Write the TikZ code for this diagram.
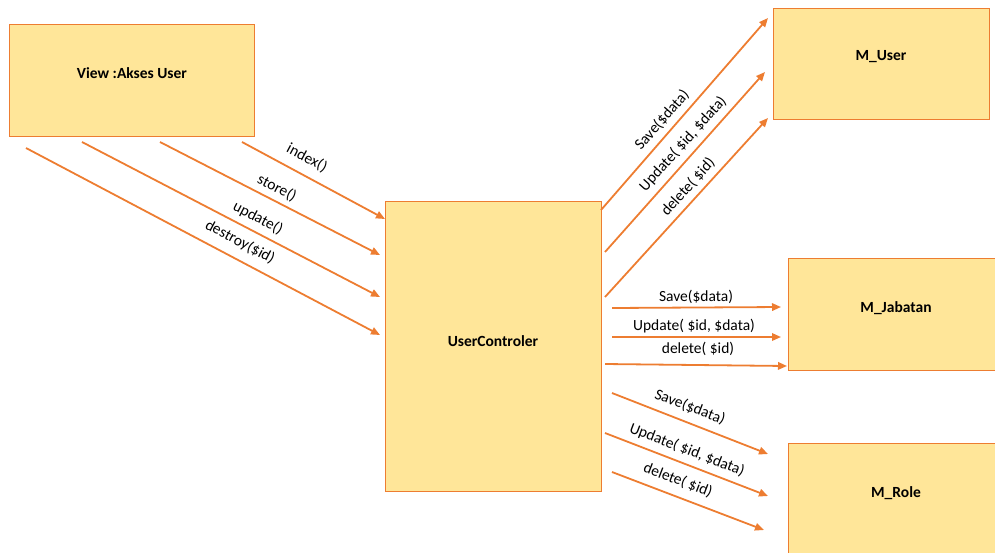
\documentclass[tikz,border=0pt]{standalone}
\usepackage{fontspec}
\setmainfont{Carlito}
\usetikzlibrary{arrows.meta}
\definecolor{boxfill}{HTML}{FFE699}
\definecolor{accent}{HTML}{ED7D31}
\begin{document}
\begin{tikzpicture}[x=1pt,y=-1pt,
  box/.style={draw=accent, line width=1pt, fill=boxfill, anchor=north west, inner sep=0pt},
  boxtext/.style={font=\fontsize{15.5}{18}\selectfont\bfseries, inner sep=0pt},
  msg/.style={draw=accent, line width=1.8pt, -{Triangle[length=9pt,width=7.5pt]}},
  msglabel/.style={font=\fontsize{15.5}{18}\selectfont, inner sep=0pt}]
\useasboundingbox (0,0) rectangle (995,552);
\clip (0,0) rectangle (995,552);

% classes
\node[box, minimum width=245pt, minimum height=112pt] (view) at (9,24) {};
\node[box, minimum width=216pt, minimum height=290pt] (ctrl) at (385,201) {};
\node[box, minimum width=216pt, minimum height=111pt] (muser) at (773,8) {};
\node[box, minimum width=220pt, minimum height=112pt] (mjab) at (788,258) {};
\node[box, minimum width=220pt, minimum height=125pt] (mrole) at (788,443) {};

\node[boxtext] (viewtxt) at (132,73) {View :Akses User};
\node[boxtext] (ctrltxt) at (493,341) {UserControler};
\node[boxtext] (musertxt) at (881,57) {M\_User};
\node[boxtext] (mjabtxt) at (896,308) {M\_Jabatan};
\node[boxtext] (mroletxt) at (896,493) {M\_Role};

% view -> controller
\coordinate (idxA) at (242,142); \coordinate (idxB) at (385,219);
\coordinate (stoA) at (160,142); \coordinate (stoB) at (380,255);
\coordinate (updA) at (82,142);  \coordinate (updB) at (380,297);
\coordinate (desA) at (26,148);  \coordinate (desB) at (380,335);
\draw[msg] (idxA) -- (idxB);
\draw[msg] (stoA) -- (stoB);
\draw[msg] (updA) -- (updB);
\draw[msg] (desA) -- (desB);
\node[msglabel, rotate=-28] (lidx) at (307,158) {index()};
\node[msglabel, rotate=-27] (lsto) at (277,188) {store()};
\node[msglabel, rotate=-27.5] (lupd) at (258,218) {update()};
\node[msglabel, rotate=-28] (ldes) at (240,242) {destroy(\$id)};

% controller -> M_User
\coordinate (uSaveA) at (601,210); \coordinate (uSaveB) at (768,18);
\coordinate (uUpdA) at (605,252);  \coordinate (uUpdB) at (765,72);
\coordinate (uDelA) at (605,297);  \coordinate (uDelB) at (768,118);
\draw[msg] (uSaveA) -- (uSaveB);
\draw[msg] (uUpdA) -- (uUpdB);
\draw[msg] (uDelA) -- (uDelB);
\node[msglabel, rotate=49] (luSave) at (662,120) {Save(\$data)};
\node[msglabel, rotate=48] (luUpd) at (683,144) {Update( \$id, \$data)};
\node[msglabel, rotate=48] (luDel) at (688,187) {delete( \$id)};

% controller -> M_Jabatan
\coordinate (jSaveA) at (612,308); \coordinate (jSaveB) at (781,307);
\coordinate (jUpdA) at (612,337);  \coordinate (jUpdB) at (781,337);
\coordinate (jDelA) at (605,364);  \coordinate (jDelB) at (787,366);
\draw[msg] (jSaveA) -- (jSaveB);
\draw[msg] (jUpdA) -- (jUpdB);
\draw[msg] (jDelA) -- (jDelB);
\node[msglabel] (ljSave) at (696,297) {Save(\$data)};
\node[msglabel] (ljUpd) at (694,326) {Update( \$id, \$data)};
\node[msglabel] (ljDel) at (698,349) {delete( \$id)};

% controller -> M_Role
\coordinate (rSaveA) at (612,393); \coordinate (rSaveB) at (768,454);
\coordinate (rUpdA) at (605,433);  \coordinate (rUpdB) at (768,496);
\coordinate (rDelA) at (612,472);  \coordinate (rDelB) at (764,530);
\draw[msg] (rSaveA) -- (rSaveB);
\draw[msg] (rUpdA) -- (rUpdB);
\draw[msg] (rDelA) -- (rDelB);
\node[msglabel, rotate=-21] (lrSave) at (690,407) {Save(\$data)};
\node[msglabel, rotate=-21] (lrUpd) at (687,450) {Update( \$id, \$data)};
\node[msglabel, rotate=-21] (lrDel) at (678,480) {delete( \$id)};
\end{tikzpicture}
\end{document}
